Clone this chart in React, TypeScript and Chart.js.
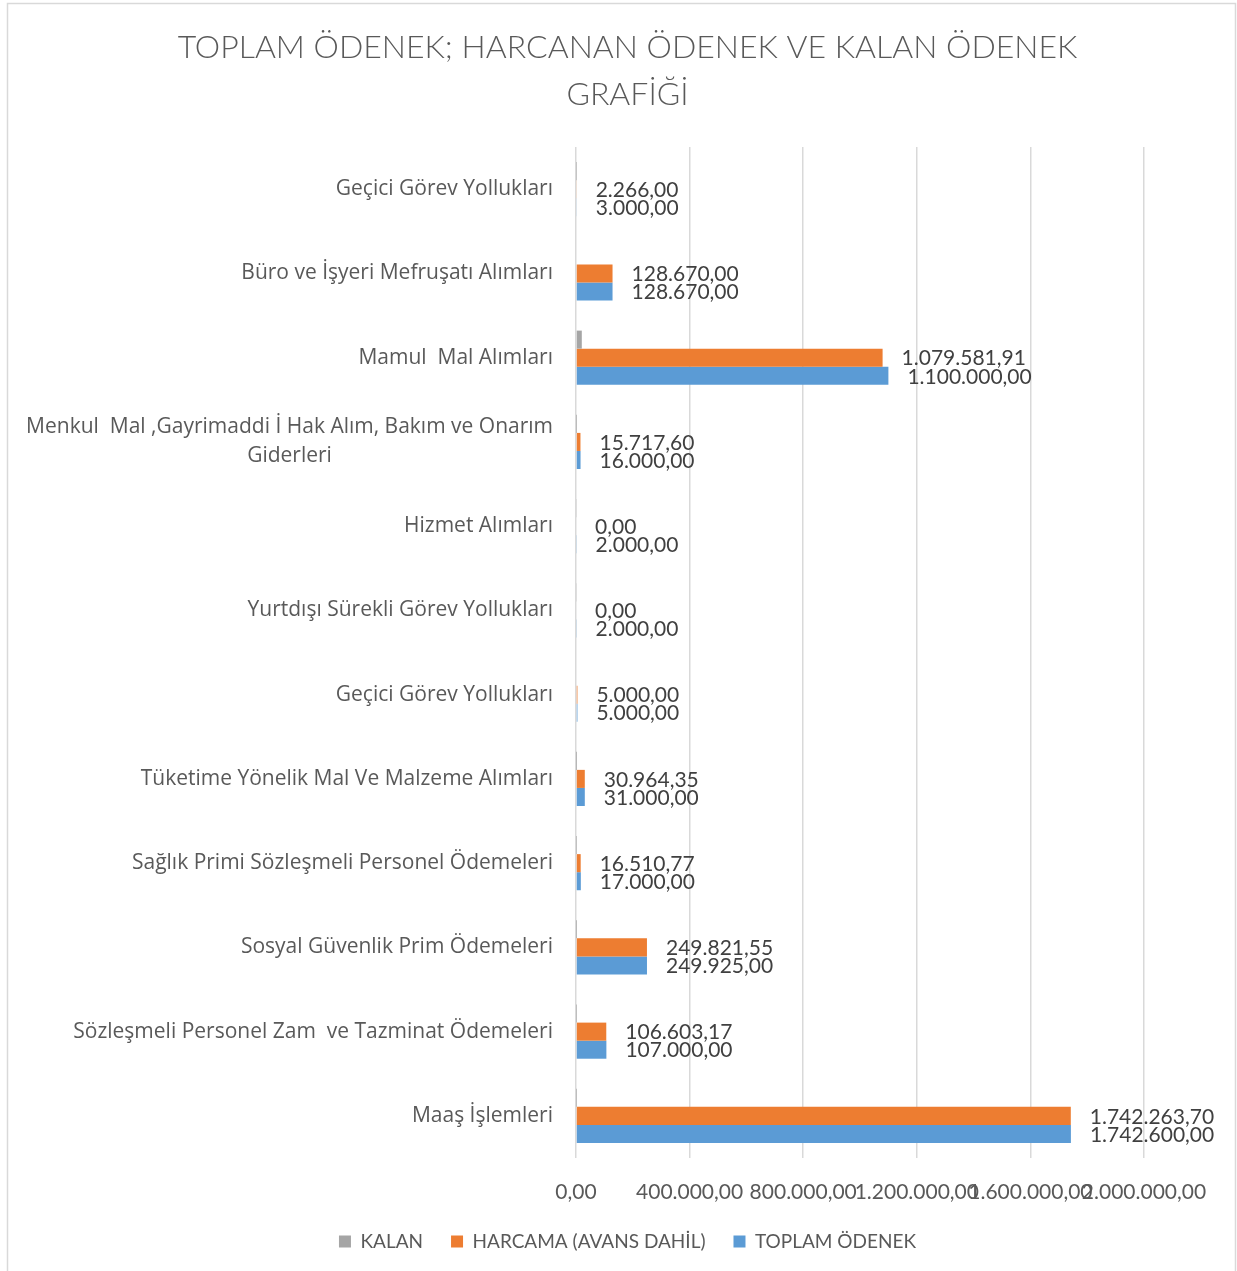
import React, { useEffect, useRef } from 'react';
import { Chart, registerables } from 'chart.js';

Chart.register(...registerables);

const categories: (string | string[])[] = [
  'Geçici Görev Yollukları',
  'Büro ve İşyeri Mefruşatı Alımları',
  'Mamul  Mal Alımları',
  ['Menkul  Mal ,Gayrimaddi İ Hak Alım, Bakım ve Onarım', 'Giderleri'],
  'Hizmet Alımları',
  'Yurtdışı Sürekli Görev Yollukları',
  'Geçici Görev Yollukları',
  'Tüketime Yönelik Mal Ve Malzeme Alımları',
  'Sağlık Primi Sözleşmeli Personel Ödemeleri',
  'Sosyal Güvenlik Prim Ödemeleri',
  'Sözleşmeli Personel Zam  ve Tazminat Ödemeleri',
  'Maaş İşlemleri',
];

const kalan = [734, 0, 20418.09, 282.4, 2000, 2000, 0, 35.65, 489.23, 103.45, 396.83, 336.3];
const harcama = [2266, 128670, 1079581.91, 15717.6, 0, 0, 5000, 30964.35, 16510.77, 249821.55, 106603.17, 1742263.7];
const toplam = [3000, 128670, 1100000, 16000, 2000, 2000, 5000, 31000, 17000, 249925, 107000, 1742600];

const seriesNames = ['KALAN', 'HARCAMA (AVANS DAHİL)', 'TOPLAM ÖDENEK'];
const seriesColors = ['#A5A5A5', '#ED7D31', '#5B9BD5'];
const titleLines = ['TOPLAM ÖDENEK; HARCANAN ÖDENEK VE KALAN ÖDENEK', 'GRAFİĞİ'];
const xMin = 0;
const xMax = 2000000;
const xStep = 400000;

const W = 1237;
const H = 1271;
const FONT = 'Lato';
const CAT_FONT = '"Open Sans"';

function fmt(v: number): string {
  const [i, d] = Math.abs(v).toFixed(2).split('.');
  return (v < 0 ? '-' : '') + i.replace(/\B(?=(\d{3})+(?!\d))/g, '.') + ',' + d;
}

export default function App() {
  const ref = useRef<HTMLCanvasElement>(null);

  useEffect(() => {
    document.body.style.margin = '0';
    const canvas = ref.current!;

    const bgPlugin = {
      id: 'bg',
      beforeDraw(chart: any) {
        const ctx = chart.ctx;
        ctx.save();
        ctx.fillStyle = '#ffffff';
        ctx.fillRect(0, 0, chart.width, chart.height);
        ctx.strokeStyle = '#d9d9d9';
        ctx.lineWidth = 1.5;
        ctx.strokeRect(7.5, 3.5, 1228, chart.height + 20);
        ctx.restore();
      },
    };

    const catLabelPlugin = {
      id: 'catLabels',
      afterDraw(chart: any) {
        const ctx = chart.ctx;
        const yScale = chart.scales.y;
        const right = chart.chartArea.left - 23;
        ctx.save();
        ctx.font = `21px ${CAT_FONT}`;
        ctx.fillStyle = '#595959';
        ctx.textBaseline = 'middle';
        categories.forEach((lab, i) => {
          const y = yScale.getPixelForValue(i);
          if (Array.isArray(lab)) {
            const lh = 29;
            const maxW = Math.max(...lab.map((l) => ctx.measureText(l).width));
            const cx = right - maxW / 2;
            ctx.textAlign = 'center';
            lab.forEach((l, k) => {
              ctx.fillText(l, cx, y + (k - (lab.length - 1) / 2) * lh);
            });
          } else {
            ctx.textAlign = 'right';
            ctx.fillText(lab, right, y);
          }
        });
        ctx.restore();
      },
    };

    const valueLabelPlugin = {
      id: 'valueLabels',
      afterDatasetsDraw(chart: any) {
        const ctx = chart.ctx;
        ctx.save();
        ctx.font = `21px ${FONT}`;
        ctx.fillStyle = '#404040';
        ctx.textAlign = 'left';
        ctx.textBaseline = 'middle';
        [1, 2].forEach((di) => {
          const meta = chart.getDatasetMeta(di);
          const data = chart.data.datasets[di].data as number[];
          meta.data.forEach((el: any, i: number) => {
            ctx.fillText(fmt(data[i]), el.x + 19, el.y + 1);
          });
        });
        ctx.restore();
      },
    };

    const chart = new Chart(canvas, {
      type: 'bar',
      data: {
        labels: categories.map((c) => (Array.isArray(c) ? c.join(' ') : c)),
        datasets: [
          { label: seriesNames[0], data: kalan, backgroundColor: seriesColors[0] },
          { label: seriesNames[1], data: harcama, backgroundColor: seriesColors[1] },
          { label: seriesNames[2], data: toplam, backgroundColor: seriesColors[2] },
        ],
      },
      options: {
        indexAxis: 'y',
        responsive: false,
        animation: false,
        events: [],
        layout: { padding: { left: 26, right: 8, top: 0, bottom: 10 } },
        datasets: {
          bar: { categoryPercentage: 0.643, barPercentage: 1.0 },
        },
        scales: {
          x: {
            type: 'linear',
            position: 'bottom',
            min: xMin,
            max: xMax,
            grid: { color: '#d9d9d9', lineWidth: 1.5, drawTicks: false },
            border: { display: false },
            ticks: {
              stepSize: xStep,
              autoSkip: false,
              maxRotation: 0,
              minRotation: 0,
              padding: 22,
              color: '#595959',
              font: { family: FONT, size: 21 },
              callback: (v: any) => fmt(Number(v)),
            },
            afterFit: (s: any) => {
              s.height = 46;
            },
          },
          y: {
            type: 'category',
            position: 'left',
            grid: { display: false, drawTicks: false },
            border: { display: false },
            ticks: { display: false },
            afterFit: (s: any) => {
              s.width = 550;
            },
          },
          yRight: {
            type: 'linear',
            position: 'right',
            display: true,
            grid: { display: false, drawTicks: false },
            border: { display: false },
            ticks: { display: false },
            afterFit: (s: any) => {
              s.width = 85;
            },
          },
        },
        plugins: {
          title: {
            display: true,
            text: titleLines,
            color: '#595959',
            font: { family: FONT, size: 32, weight: '300' as any, lineHeight: 1.47 },
            padding: { top: 24, bottom: 29 },
          },
          legend: {
            display: true,
            position: 'bottom',
            labels: {
              boxWidth: 12,
              boxHeight: 12,
              padding: 28,
              color: '#595959',
              font: { family: FONT, size: 19 },
            },
          },
          tooltip: { enabled: false },
        },
      },
      plugins: [bgPlugin, catLabelPlugin, valueLabelPlugin],
    } as any);

    return () => chart.destroy();
  }, []);

  return (
    <div style={{ width: W, height: H, overflow: 'hidden' }}>
      <canvas ref={ref} width={W} height={H} style={{ display: 'block' }} />
    </div>
  );
}
